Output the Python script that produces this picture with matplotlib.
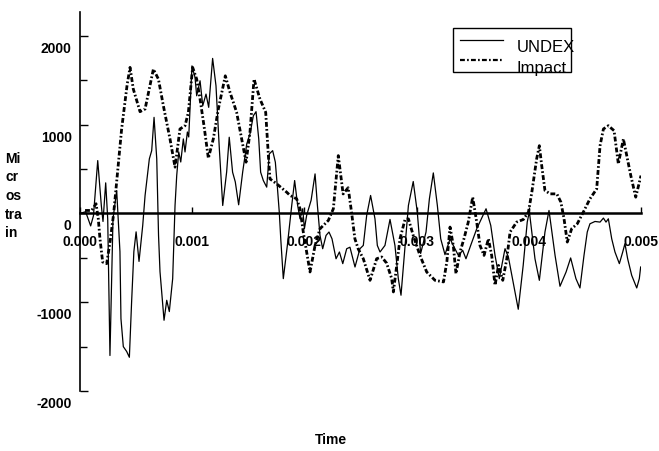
import matplotlib
matplotlib.use("Agg")
import matplotlib.pyplot as plt
import matplotlib.transforms as mtransforms
from matplotlib.lines import Line2D
from matplotlib.patches import Rectangle

plt.rcParams['font.family'] = ['Liberation Sans', 'DejaVu Sans']
plt.rcParams['lines.scale_dashes'] = False

# ---- data (time in ms, strain in microstrain) ----
undex_t_ms = [0.0, 0.05, 0.095, 0.12, 0.158, 0.19, 0.205, 0.229, 0.247, 0.267, 0.294, 0.327,
              0.356, 0.365, 0.386, 0.416, 0.44, 0.46, 0.48, 0.50, 0.526, 0.559, 0.58, 0.618,
              0.639, 0.66, 0.684, 0.70, 0.713, 0.749, 0.773, 0.796, 0.826, 0.847, 0.862, 0.88,
              0.898, 0.921, 0.936, 0.957, 0.969, 0.998, 1.025, 1.04, 1.07, 1.094, 1.123, 1.147,
              1.182, 1.212, 1.242, 1.272, 1.307, 1.33, 1.36, 1.384, 1.414, 1.45, 1.486, 1.515,
              1.545, 1.569, 1.593, 1.61, 1.634, 1.664, 1.687, 1.717, 1.741, 1.758, 1.776, 1.79,
              1.812, 1.848, 1.887, 1.913, 1.94, 1.961, 1.985, 2.0, 2.02, 2.06, 2.095, 2.116,
              2.139, 2.163, 2.193, 2.219, 2.246, 2.282, 2.312, 2.342, 2.377, 2.406, 2.451, 2.495,
              2.525, 2.555, 2.59, 2.629, 2.65, 2.674, 2.718, 2.763, 2.807, 2.837, 2.861, 2.888,
              2.927, 2.97, 3.006, 3.036, 3.084, 3.114, 3.149, 3.185, 3.215, 3.253, 3.298, 3.327,
              3.372, 3.411, 3.44, 3.482, 3.536, 3.619, 3.661, 3.699, 3.737, 3.788, 3.818, 3.906,
              3.95, 3.986, 4.005, 4.055, 4.094, 4.144, 4.18, 4.234, 4.278, 4.332, 4.373, 4.42,
              4.456, 4.492, 4.521, 4.545, 4.59, 4.635, 4.665, 4.688, 4.709, 4.739, 4.768, 4.807,
              4.837, 4.857, 4.881, 4.917, 4.962, 4.985, 4.997]
undex_v = [0, 20, -140, -25, 596, 90, -90, 345, -60, -1600, -60, 258,
           -430, -1185, -1500, -1555, -1620, -995, -430, -207, -540, -135, 203, 615,
           708, 1083, 615, -247, -655, -1203, -978, -1105, -734, 90, 427, 693,
           580, 840, 693, 918, 862, 1663, 1535, 1326, 1495, 1214, 1345, 1196,
           1747, 1439, 727, 90, 468, 859, 465, 356, 98, 468, 783, 896,
           1101, 1147, 840, 465, 371, 297, 671, 708, 578, 315, 16, -300,
           -734, -360, 90, 371, 90, -60, 53, -172, -22, 150, 446, 90,
           -247, -397, -247, -209, -285, -510, -434, -565, -397, -380, -603, -397,
           -360, -22, 203, -60, -360, -434, -360, -67, -360, -734, -921, -510,
           90, 360, 16, -450, -209, 165, 457, 90, -285, -464, -285, -360,
           -472, -416, -510, -360, -172, 53, -135, -472, -734, -397, -490, -1079,
           -585, -97, 22, -510, -753, -209, 34, -472, -820, -660, -501, -734,
           -839, -472, -209, -116, -90, -97, -52, -97, -60, -285, -434, -565,
           -434, -340, -510, -697, -839, -734, -603]

impact_t_ms = [0.045, 0.104, 0.143, 0.163, 0.178, 0.202, 0.238, 0.27, 0.30, 0.318, 0.371, 0.42,
               0.446, 0.475, 0.535, 0.58, 0.654, 0.699, 0.743, 0.802, 0.847, 0.891, 0.936, 0.966,
               1.004, 1.04, 1.07, 1.105, 1.144, 1.188, 1.233, 1.295, 1.337, 1.396, 1.48, 1.515,
               1.551, 1.604, 1.655, 1.679, 1.693, 1.753, 1.842, 1.872, 1.931, 1.961, 1.99, 2.05,
               2.095, 2.139, 2.213, 2.258, 2.302, 2.345, 2.39, 2.42, 2.45, 2.48, 2.525, 2.585,
               2.644, 2.689, 2.733, 2.778, 2.793, 2.823, 2.852, 2.897, 2.927, 2.97, 3.03, 3.09,
               3.164, 3.24, 3.27, 3.298, 3.327, 3.351, 3.387, 3.422, 3.46, 3.5, 3.536, 3.565,
               3.601, 3.64, 3.669, 3.699, 3.73, 3.768, 3.804, 3.833, 3.892, 3.952, 3.997, 4.027,
               4.07, 4.094, 4.115, 4.144, 4.19, 4.25, 4.286, 4.314, 4.343, 4.382, 4.432, 4.486,
               4.545, 4.605, 4.635, 4.665, 4.709, 4.76, 4.798, 4.843, 4.873, 4.909, 4.953, 5.0]
impact_v = [34, 34, 110, -60, -285, -547, -565, -300, 0, 240, 952, 1450,
            1646, 1402, 1147, 1177, 1626, 1514, 1214, 840, 522, 952, 989, 1140,
            1646, 1514, 1289, 989, 622, 840, 1177, 1551, 1365, 1140, 578, 915,
            1514, 1289, 1140, 652, 390, 334, 240, 203, 165, 53, -209, -659,
            -360, -172, -79, 53, 652, 220, 290, 16, -285, -400, -510, -753,
            -510, -490, -560, -734, -884, -585, -285, -67, -60, -247, -472, -659,
            -753, -771, -540, -153, -360, -678, -434, -285, -100, 184, -100, -360,
            -472, -285, -472, -809, -585, -753, -510, -209, -97, -67, 16, 240,
            615, 764, 540, 259, 221, 221, 128, -60, -322, -172, -116, 16,
            165, 277, 764, 952, 989, 933, 559, 840, 652, 427, 184, 427]

series_labels = ["UNDEX", "Impact"]
x_ticks = [0.0, 0.001, 0.002, 0.003, 0.004, 0.005]
x_ticklabels = ["0.000", "0.001", "0.002", "0.003", "0.004", "0.005"]
y_ticks = [-2000, -1000, 0, 1000, 2000]
y_ticklabels = ["-2000", "-1000", "0", "1000", "2000"]
y_minor = [-1500, -500, 500, 1500]
y_label = "Mi\ncr\nos\ntra\nin"
x_label = "Time"

undex_t = [t * 1e-3 for t in undex_t_ms]
impact_t = [t * 1e-3 for t in impact_t_ms]

W, H = 659, 452
fig = plt.figure(figsize=(W / 100, H / 100), dpi=100)
ax = fig.add_axes([80 / W, 1 - 392 / H, (641 - 80) / W, (392 - 13) / H])

ax.plot(undex_t, undex_v, color='black', lw=0.9)
dashdot = (0, (3.5, 1.6, 1.2, 1.6))
ax.plot(impact_t, impact_v, color='black', lw=2.0, linestyle=dashdot)

ax.set_xlim(0, 0.005)
ax.set_ylim(-2000, 2270)

ax.spines['top'].set_visible(False)
ax.spines['right'].set_visible(False)
ax.spines['bottom'].set_position(('data', 0))
ax.spines['bottom'].set_linewidth(1.8)
ax.spines['left'].set_linewidth(1.2)

ax.set_xticks(x_ticks)
ax.set_xticklabels(x_ticklabels, fontweight='bold', fontsize=10)
ax.set_yticks(y_ticks)
ax.set_yticklabels(y_ticklabels, fontweight='bold', fontsize=10)
ax.set_yticks(y_minor, minor=True)
ax.tick_params(axis='x', direction='in', length=4, width=1, pad=15)
ax.tick_params(axis='y', which='major', direction='in', length=6, width=1, pad=6)
ax.tick_params(axis='y', which='minor', direction='in', length=5, width=1)

offset = mtransforms.ScaledTranslation(0, -10.5 / 100, fig.dpi_scale_trans)
for tick in ax.yaxis.get_major_ticks():
    tick.label1.set_transform(tick.label1.get_transform() + offset)

fig.text(5 / W, 1 - 196 / H, y_label, ha='left', va='center', fontsize=10,
         fontweight='bold', linespacing=1.42)
fig.text(331 / W, 1 - 440 / H, x_label, ha='center', va='center', fontsize=10,
         fontweight='bold')

# legend (box with text slightly overflowing, as in the original)
fig.add_artist(Rectangle((453 / W, 1 - 73 / H), (571 - 453) / W, (73 - 29) / H,
                         transform=fig.transFigure, fill=False, lw=1.0, ec='black'))
fig.add_artist(Line2D([460 / W, 503 / W], [1 - 41 / H, 1 - 41 / H],
                      transform=fig.transFigure, color='black', lw=0.9))
fig.add_artist(Line2D([460 / W, 503 / W], [1 - 61 / H, 1 - 61 / H],
                      transform=fig.transFigure, color='black', lw=1.6, linestyle=dashdot))
fig.text(517 / W, 1 - 48 / H, series_labels[0], ha='left', va='center', fontsize=12)
fig.text(517 / W, 1 - 69 / H, series_labels[1], ha='left', va='center', fontsize=12)

fig.savefig("out.png", dpi=100)
